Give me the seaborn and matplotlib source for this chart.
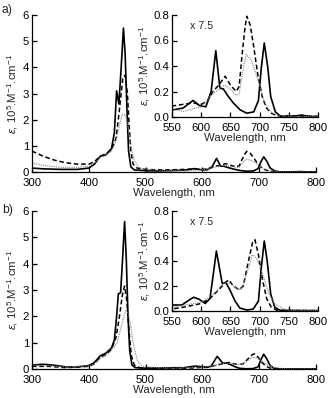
import matplotlib
matplotlib.use("Agg")
import matplotlib.pyplot as plt
import seaborn as sns
import pandas as pd

# ---------------- data (wavelength nm, epsilon 10^5 M-1 cm-1) ----------------
# panel a
a_solid_wl = [300, 320, 350, 380, 400, 410, 420, 430, 440, 445, 449, 453, 457, 461, 464, 467, 470, 474, 480,
              500, 520, 550, 569, 586, 597, 608, 617, 625, 632, 638, 645, 655, 667, 678, 690, 698, 703, 708,
              714, 719, 727, 736, 760, 772, 785, 800]
a_solid_y = [0.15, 0.12, 0.10, 0.10, 0.15, 0.30, 0.60, 0.65, 0.90, 1.50, 3.10, 2.60, 4.00, 5.50, 4.50, 2.50,
             0.80, 0.20, 0.08, 0.05, 0.04, 0.055, 0.07, 0.13, 0.09, 0.08, 0.20, 0.52, 0.225, 0.22, 0.17, 0.11,
             0.055, 0.03, 0.04, 0.13, 0.39, 0.58, 0.39, 0.16, 0.04, 0.005, 0.008, 0.015, 0.004, 0.004]

a_dash_wl = [300, 320, 340, 360, 380, 400, 410, 420, 430, 440, 448, 453, 457, 460, 464, 468, 471, 474, 478,
             485, 500, 520, 550, 570, 586, 600, 610, 620, 630, 641, 650, 660, 665, 670, 675, 678, 684, 690,
             697, 705, 712, 720, 730, 800]
a_dash_y = [0.80, 0.60, 0.45, 0.35, 0.30, 0.30, 0.40, 0.60, 0.70, 0.85, 1.30, 2.20, 3.00, 3.60, 3.70, 3.00,
            1.80, 0.80, 0.30, 0.15, 0.10, 0.08, 0.086, 0.10, 0.11, 0.10, 0.12, 0.20, 0.25, 0.32, 0.25, 0.20,
            0.24, 0.49, 0.70, 0.79, 0.72, 0.55, 0.33, 0.15, 0.07, 0.03, 0.01, 0.005]

a_dot_wl = [300, 320, 350, 380, 400, 410, 420, 430, 440, 448, 454, 459, 464, 468, 472, 476, 480, 487, 495,
            510, 550, 570, 600, 620, 630, 640, 650, 660, 665, 670, 677, 685, 693, 700, 708, 715, 725, 740, 800]
a_dot_y = [0.35, 0.25, 0.18, 0.18, 0.22, 0.35, 0.55, 0.65, 0.80, 1.20, 1.80, 2.20, 2.20, 1.90, 1.30, 0.80,
           0.45, 0.20, 0.12, 0.08, 0.06, 0.045, 0.08, 0.18, 0.22, 0.25, 0.22, 0.17, 0.18, 0.33, 0.49, 0.45,
           0.35, 0.25, 0.12, 0.06, 0.02, 0.005, 0.003]

# panel b
b_solid_wl = [300, 320, 340, 360, 380, 400, 410, 420, 430, 440, 445, 449, 452, 456, 459, 463, 466, 469, 472,
              476, 482, 500, 550, 567, 579, 587, 596, 607, 615, 620, 626, 631, 636, 642, 649, 658, 666, 678,
              689, 698, 703, 708, 713, 719, 726, 735, 800]
b_solid_y = [0.15, 0.18, 0.14, 0.08, 0.08, 0.13, 0.25, 0.50, 0.60, 0.80, 1.10, 2.00, 2.85, 2.90, 4.00, 5.60,
             4.20, 2.00, 0.70, 0.15, 0.05, 0.03, 0.048, 0.048, 0.087, 0.11, 0.095, 0.06, 0.10, 0.27, 0.48,
             0.35, 0.22, 0.23, 0.17, 0.08, 0.024, 0.008, 0.015, 0.08, 0.35, 0.56, 0.40, 0.135, 0.03, 0.005,
             0.003]

b_dash_wl = [300, 330, 360, 400, 410, 420, 430, 440, 448, 454, 459, 463, 467, 471, 475, 480, 490, 550, 575,
             600, 615, 630, 640, 647, 655, 665, 672, 680, 688, 692, 698, 705, 712, 720, 730, 800]
b_dash_y = [0.10, 0.10, 0.05, 0.10, 0.20, 0.45, 0.55, 0.75, 1.20, 2.00, 2.80, 3.15, 2.60, 1.40, 0.50, 0.15,
            0.05, 0.016, 0.035, 0.06, 0.10, 0.17, 0.22, 0.25, 0.20, 0.17, 0.20, 0.38, 0.55, 0.57, 0.45, 0.25,
            0.10, 0.03, 0.005, 0.003]

b_dot_wl = [300, 330, 360, 400, 410, 420, 430, 440, 450, 457, 462, 466, 470, 474, 478, 482, 486, 492, 500,
            550, 600, 620, 640, 650, 660, 668, 678, 688, 695, 705, 715, 725, 740, 750, 800]
b_dot_y = [0.15, 0.12, 0.08, 0.12, 0.20, 0.40, 0.50, 0.70, 1.00, 1.60, 2.00, 2.25, 2.10, 1.60, 1.00, 0.60,
           0.30, 0.15, 0.08, 0.03, 0.07, 0.13, 0.23, 0.22, 0.18, 0.17, 0.30, 0.45, 0.42, 0.30, 0.15, 0.06,
           0.02, 0.005, 0.003]

main_xticks = [300, 400, 500, 600, 700, 800]
main_yticks = [0, 1, 2, 3, 4, 5, 6]
inset_xticks = [550, 600, 650, 700, 750, 800]
inset_yticks = [0.0, 0.2, 0.4, 0.6, 0.8]
inset_ytick_labels = ["0.0", "0.2", "0.4", "0.6", "0.8"]
panel_labels = ["a)", "b)"]
scale_note = "x 7.5"
xlabel = "Wavelength, nm"
ylabel = r"$\varepsilon$, 10$^{5}$.M$^{-1}$.cm$^{-1}$"

# ---------------- style ----------------
sns.set_style("ticks")
plt.rcParams["font.family"] = ["Liberation Sans", "DejaVu Sans"]
plt.rcParams["mathtext.fontset"] = "custom"
plt.rcParams["mathtext.rm"] = "Liberation Sans"
plt.rcParams["mathtext.it"] = "Liberation Sans:italic"
FS = 8.2
plt.rcParams["font.size"] = FS

fig = plt.figure(figsize=(3.29, 3.98), dpi=100)
W, H = 329.0, 398.0


def ax_at(x0, y_top, x1, y_bot):
    return fig.add_axes([x0 / W, 1 - y_bot / H, (x1 - x0) / W, (y_bot - y_top) / H])


def draw(ax, series):
    for wl, y, kind in series:
        df = pd.DataFrame({"wl": wl, "eps": y})
        if kind == "solid":
            sns.lineplot(data=df, x="wl", y="eps", ax=ax, color="black", lw=1.2,
                         estimator=None, sort=False)
        elif kind == "dash":
            l = sns.lineplot(data=df, x="wl", y="eps", ax=ax, color="black", lw=1.1,
                             estimator=None, sort=False)
            l.lines[-1].set_dashes([3, 1.8])
        else:
            l = sns.lineplot(data=df, x="wl", y="eps", ax=ax, color="#808080", lw=0.8,
                             estimator=None, sort=False)
            l.lines[-1].set_dashes([1, 1])


def style(ax, xpad=3):
    sns.despine(ax=ax)
    for s in ("left", "bottom"):
        ax.spines[s].set_linewidth(0.9)
        ax.spines[s].set_color("black")
    ax.tick_params(direction="in", length=3.5, width=0.9, labelsize=FS, colors="black")
    ax.tick_params(axis="x", pad=xpad)
    ax.tick_params(axis="y", pad=2)


panels = [
    ([(a_solid_wl, a_solid_y, "solid"), (a_dash_wl, a_dash_y, "dash"), (a_dot_wl, a_dot_y, "dot")],
     (15, 172), (15, 117), 10),
    ([(b_solid_wl, b_solid_y, "solid"), (b_dash_wl, b_dash_y, "dash"), (b_dot_wl, b_dot_y, "dot")],
     (211, 369), (211, 311), 210),
]

for i, (series, (mt, mb), (it, ib), label_y) in enumerate(panels):
    ax = ax_at(32, mt, 316, mb)
    draw(ax, series)
    ax.set_xlim(300, 800)
    ax.set_ylim(0, 6)
    ax.set_xticks(main_xticks)
    ax.set_yticks(main_yticks)
    style(ax, xpad=4)
    ax.set_xlabel(xlabel, fontsize=FS, labelpad=0.2)
    ax.set_ylabel(ylabel, fontsize=FS, labelpad=2)
    fig.text(2 / W, 1 - label_y / H, panel_labels[i], fontsize=FS + 0.5, ha="left", va="center")

    ins = ax_at(172, it, 318, ib)
    ins.set_facecolor("none")
    draw(ins, series)
    ins.set_xlim(550, 800)
    ins.set_ylim(0, 0.8)
    ins.set_xticks(inset_xticks)
    ins.set_yticks(inset_yticks)
    ins.set_yticklabels(inset_ytick_labels)
    style(ins, xpad=4)
    ins.set_xlabel(xlabel, fontsize=FS, labelpad=0.2)
    ins.set_ylabel(ylabel, fontsize=FS, labelpad=1)
    ins.text(0.12, 0.89, scale_note, transform=ins.transAxes, fontsize=FS - 0.5,
             ha="left", va="center")

fig.savefig("out.png", dpi=100)
